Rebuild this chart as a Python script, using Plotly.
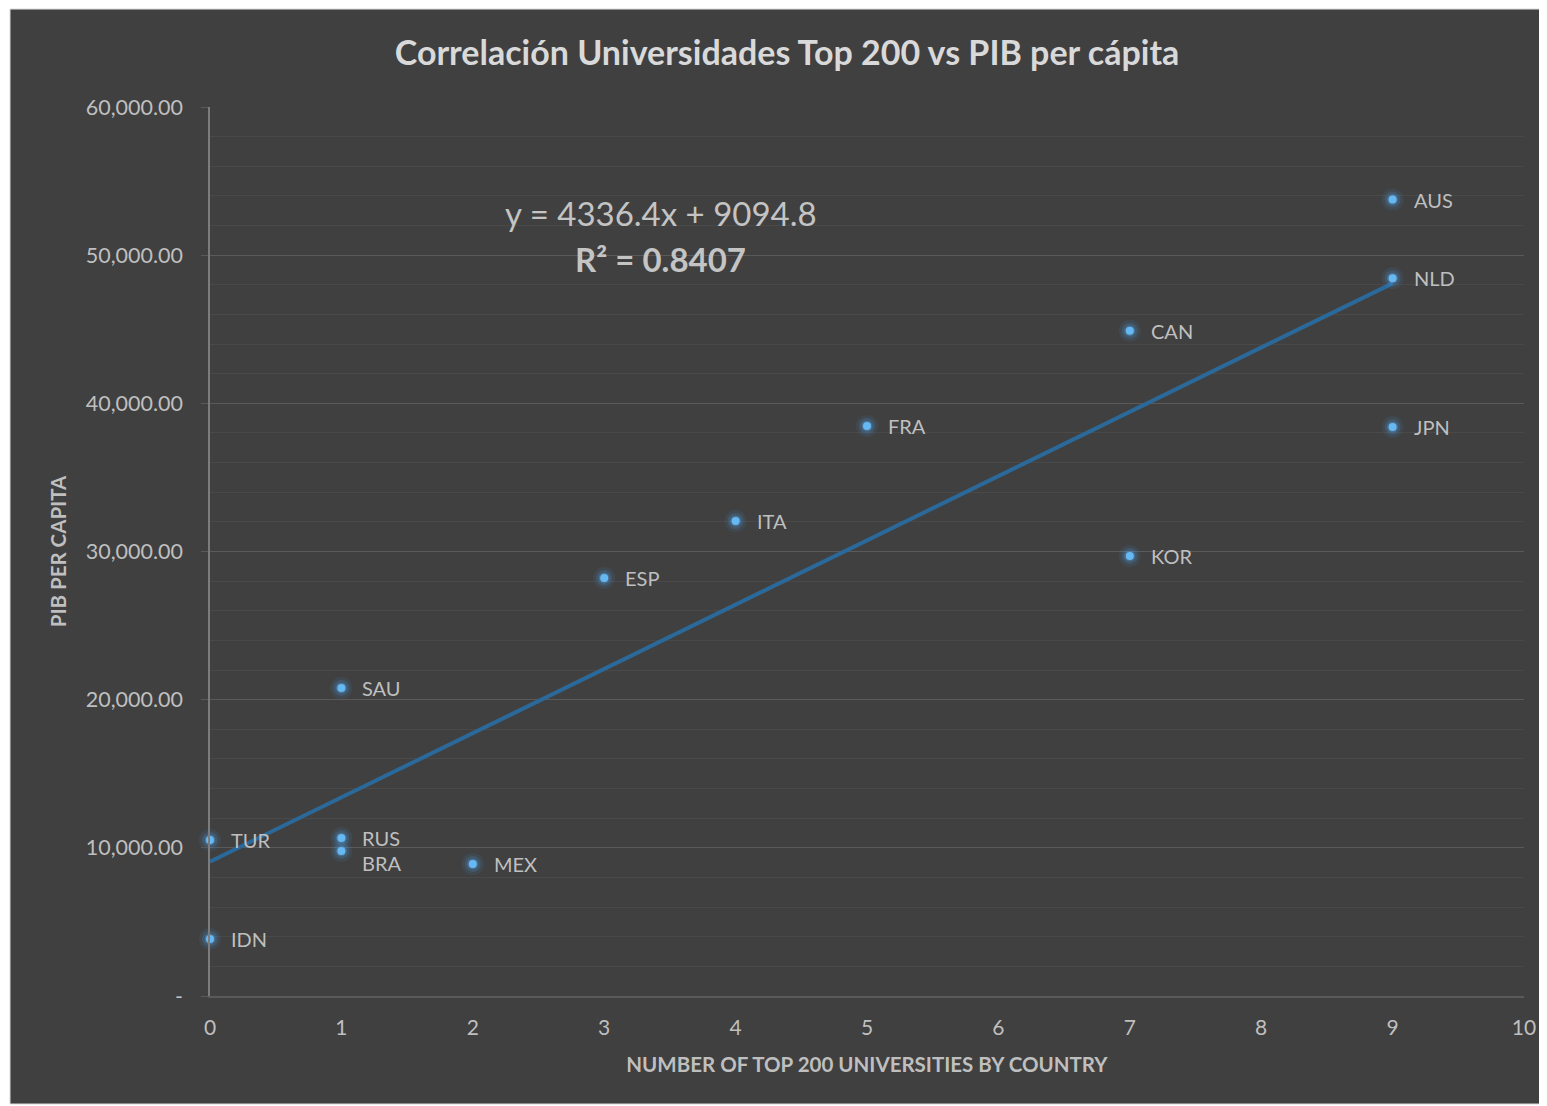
import numpy as np
import plotly.graph_objects as go

countries = ["AUS", "NLD", "CAN", "FRA", "JPN", "ITA", "KOR", "ESP", "SAU", "TUR", "RUS", "BRA", "MEX", "IDN"]
universities = [9, 9, 7, 5, 9, 4, 7, 3, 1, 0, 1, 1, 2, 0]
gdp_per_capita = [53750, 48450, 44900, 38470, 38400, 32060, 29700, 28210, 20790, 10530, 10660, 9790, 8910, 3850]

y_tickvals = [0, 10000, 20000, 30000, 40000, 50000, 60000]
y_ticktext = ["-", "10,000.00", "20,000.00", "30,000.00", "40,000.00", "50,000.00", "60,000.00"]
x_tickvals = [0, 1, 2, 3, 4, 5, 6, 7, 8, 9, 10]

equation_text = "y = 4336.4x + 9094.8"
r2_text = "<b>R² = 0.8407</b>"

FONT = "Lato"
TXT = "#bfbfbf"

# linear trendline fitted from the data
slope, intercept = np.polyfit(universities, gdp_per_capita, 1)
tx = np.array([min(universities), max(universities)])
ty = slope * tx + intercept

fig = go.Figure()

fig.add_trace(go.Scatter(
    x=tx, y=ty, mode="lines",
    line=dict(color="#2a6999", width=4),
    hoverinfo="skip", showlegend=False))

# glow
fig.add_trace(go.Scatter(
    x=universities, y=gdp_per_capita, mode="markers",
    marker=dict(size=22, color="rgba(70,150,225,0.10)", line=dict(width=0)),
    cliponaxis=False, hoverinfo="skip", showlegend=False))
fig.add_trace(go.Scatter(
    x=universities, y=gdp_per_capita, mode="markers",
    marker=dict(size=16, color="rgba(80,160,230,0.18)", line=dict(width=0)),
    cliponaxis=False, hoverinfo="skip", showlegend=False))
fig.add_trace(go.Scatter(
    x=universities, y=gdp_per_capita, mode="markers",
    marker=dict(size=11, color="rgba(90,170,235,0.30)", line=dict(width=0)),
    cliponaxis=False, hoverinfo="skip", showlegend=False))
fig.add_trace(go.Scatter(
    x=universities, y=gdp_per_capita, mode="markers",
    marker=dict(size=8, color="#66b8f2", line=dict(width=0)),
    cliponaxis=False, text=countries, showlegend=False))

annotations = []
for c, xv, yv in zip(countries, universities, gdp_per_capita):
    annotations.append(dict(
        x=xv, y=yv, xref="x", yref="y", text=c, showarrow=False,
        xanchor="left", yanchor="middle", xshift=19,
        yshift=-12 if c == "BRA" else 0,
        font=dict(family=FONT, size=20, color=TXT)))

annotations.append(dict(
    x=3.43, y=52850, xref="x", yref="y", text=equation_text, showarrow=False,
    xanchor="center", yanchor="middle",
    font=dict(family=FONT, size=33, color="#c4c4c4")))
annotations.append(dict(
    x=3.43, y=49750, xref="x", yref="y", text=r2_text, showarrow=False,
    xanchor="center", yanchor="middle",
    font=dict(family=FONT, size=33, color="#c4c4c4")))

fig.update_layout(
    width=1539, height=1098,
    margin=dict(l=202, r=23, t=99, b=110),
    paper_bgcolor="white",
    plot_bgcolor="rgba(0,0,0,0)",
    title=dict(text="<b>Correlación Universidades Top 200 vs PIB per cápita</b>",
               x=0.5062, xanchor="center", y=0.959, yanchor="middle",
               font=dict(family=FONT, size=34, color="#d9d9d9")),
    annotations=annotations,
    shapes=[dict(type="rect", xref="paper", yref="paper",
                 x0=-0.1522, x1=1.02, y0=-0.1215, y1=1.1102,
                 fillcolor="#404040", line=dict(color="#d9d9d9", width=1),
                 layer="below")],
    xaxis=dict(range=[0, 10], tickvals=x_tickvals,
               showgrid=False, zeroline=False,
               showline=True, linecolor="#5a5a5a", linewidth=1.5,
               ticks="",
               ticklabelstandoff=12,
               tickfont=dict(family=FONT, size=21, color=TXT),
               title=dict(text="<b>NUMBER OF TOP 200 UNIVERSITIES BY COUNTRY</b>",
                          font=dict(family=FONT, size=20.5, color=TXT), standoff=20)),
    yaxis=dict(range=[0, 60000], tickvals=y_tickvals, ticktext=y_ticktext,
               showgrid=True, gridcolor="#5a5a5a", gridwidth=1.2,
               zeroline=False,
               showline=True, linecolor="#7c7c7c", linewidth=1.5,
               ticks="outside", ticklen=7, tickcolor="#5a5a5a",
               ticklabelstandoff=14,
               tickfont=dict(family=FONT, size=21.5, color=TXT),
               minor=dict(dtick=2000, showgrid=True, gridcolor="#494949", gridwidth=1),
               title=dict(text="<b>PIB PER CAPITA</b>",
                          font=dict(family=FONT, size=20.5, color=TXT), standoff=14)),
)

fig.write_html("out.html")
